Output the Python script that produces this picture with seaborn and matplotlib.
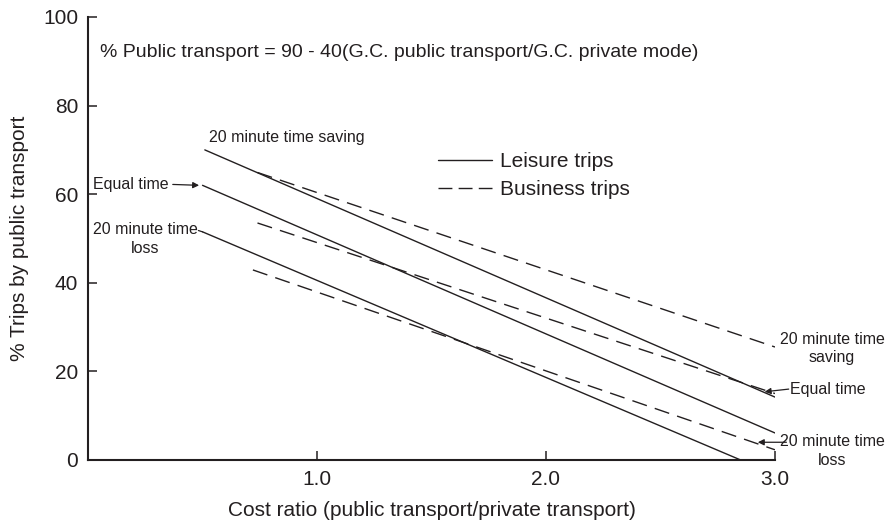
import matplotlib
matplotlib.use("Agg")
import pandas as pd
import matplotlib.pyplot as plt
import seaborn as sns
from matplotlib.lines import Line2D

# Values (cost ratio vs % trips by public transport)
cases = ["20 minute time saving", "Equal time", "20 minute time loss"]
leisure_start_ratio = [0.51, 0.50, 0.50]
leisure_start_pct = [70.0, 62.0, 51.5]
leisure_end_ratio = [3.0, 3.0, 2.85]
leisure_end_pct = [14.2, 6.1, 0.0]
business_start_ratio = [0.74, 0.74, 0.72]
business_start_pct = [64.9, 53.5, 42.9]
business_end_ratio = [3.0, 3.0, 3.0]
business_end_pct = [25.5, 15.0, 2.3]
trip_types = ["Leisure trips", "Business trips"]
x_ticks = [1.0, 2.0, 3.0]
x_tick_labels = ["1.0", "2.0", "3.0"]
y_ticks = [0, 20, 40, 60, 80, 100]
equation = "% Public transport = 90 - 40(G.C. public transport/G.C. private mode)"

# Build a long table: two points per straight line
rows = []
for i, case in enumerate(cases):
    rows.append(("Leisure trips", case, leisure_start_ratio[i], leisure_start_pct[i]))
    rows.append(("Leisure trips", case, leisure_end_ratio[i], leisure_end_pct[i]))
    rows.append(("Business trips", case, business_start_ratio[i], business_start_pct[i]))
    rows.append(("Business trips", case, business_end_ratio[i], business_end_pct[i]))
df = pd.DataFrame(rows, columns=["trip", "case", "ratio", "pct"])
df["line"] = df["trip"] + " / " + df["case"]

sns.set_style("ticks")
plt.rcParams["font.family"] = ["Liberation Sans", "DejaVu Sans"]
ink = "#231f20"

fig = plt.figure(figsize=(8.92, 5.23), dpi=100)
ax = fig.add_axes([0.0987, 0.1205, 0.7701, 0.847])

sns.lineplot(data=df, x="ratio", y="pct", style="trip", units="line", estimator=None,
             sort=False, color=ink, linewidth=1.0, legend=False, ax=ax,
             dashes={"Leisure trips": "", "Business trips": (11, 6)})

ax.set_xlim(0, 3.0)
ax.set_ylim(0, 100)
ax.set_xticks(x_ticks)
ax.set_xticklabels(x_tick_labels)
ax.set_yticks(y_ticks)
ax.tick_params(direction="in", length=6.5, width=1.1, labelsize=15, pad=7, colors=ink)
sns.despine(ax=ax)
for s in ["left", "bottom"]:
    ax.spines[s].set_linewidth(1.5)
    ax.spines[s].set_color(ink)

ax.set_xlabel("Cost ratio (public transport/private transport)", fontsize=15, color=ink, labelpad=9)
ax.set_ylabel("% Trips by public transport", fontsize=15, color=ink, labelpad=10)

# equation
ax.text(0.052, 91.9, equation, fontsize=14, color=ink, va="center", ha="left")

# legend
handles = [Line2D([], [], color=ink, lw=1.0),
           Line2D([], [], color=ink, lw=1.0, dashes=(10, 4.5))]
ax.legend(handles, trip_types, loc="upper left", bbox_to_anchor=(0.509, 0.695),
          frameon=False, fontsize=15, handlelength=2.6, handletextpad=0.4,
          borderpad=0, borderaxespad=0, labelspacing=0.45, labelcolor=ink)

# labels on the left
small = 11.5
arrow_kw = dict(arrowstyle="-|>", lw=0.9, color=ink, mutation_scale=9, shrinkA=0, shrinkB=0)
ax.text(0.528, 72.7, "20 minute time saving", fontsize=small, color=ink, ha="left", va="center")
ax.text(0.354, 62.3, "Equal time", fontsize=small, color=ink, ha="right", va="center")
ax.annotate("", xy=(0.485, 62.0), xytext=(0.37, 62.2), arrowprops=arrow_kw)
ax.text(0.251, 49.9, "20 minute time\nloss", fontsize=small, color=ink, ha="center", va="center",
        linespacing=1.3)
ax.plot([0.482, 0.50], [51.8, 51.5], color=ink, lw=0.9)

# labels on the right
ax.text(3.249, 25.2, "20 minute time\nsaving", fontsize=small, color=ink, ha="center", va="center",
        linespacing=1.3, clip_on=False)
ax.text(3.066, 16.0, "Equal time", fontsize=small, color=ink, ha="left", va="center", clip_on=False)
ax.annotate("", xy=(2.955, 15.4), xytext=(3.06, 16.0), arrowprops=arrow_kw, annotation_clip=False)
ax.text(3.249, 2.0, "20 minute time\nloss", fontsize=small, color=ink, ha="center", va="center",
        linespacing=1.3, clip_on=False)
ax.annotate("", xy=(2.925, 4.0), xytext=(3.05, 4.0), arrowprops=arrow_kw, annotation_clip=False)

fig.savefig("out.png", dpi=100)
